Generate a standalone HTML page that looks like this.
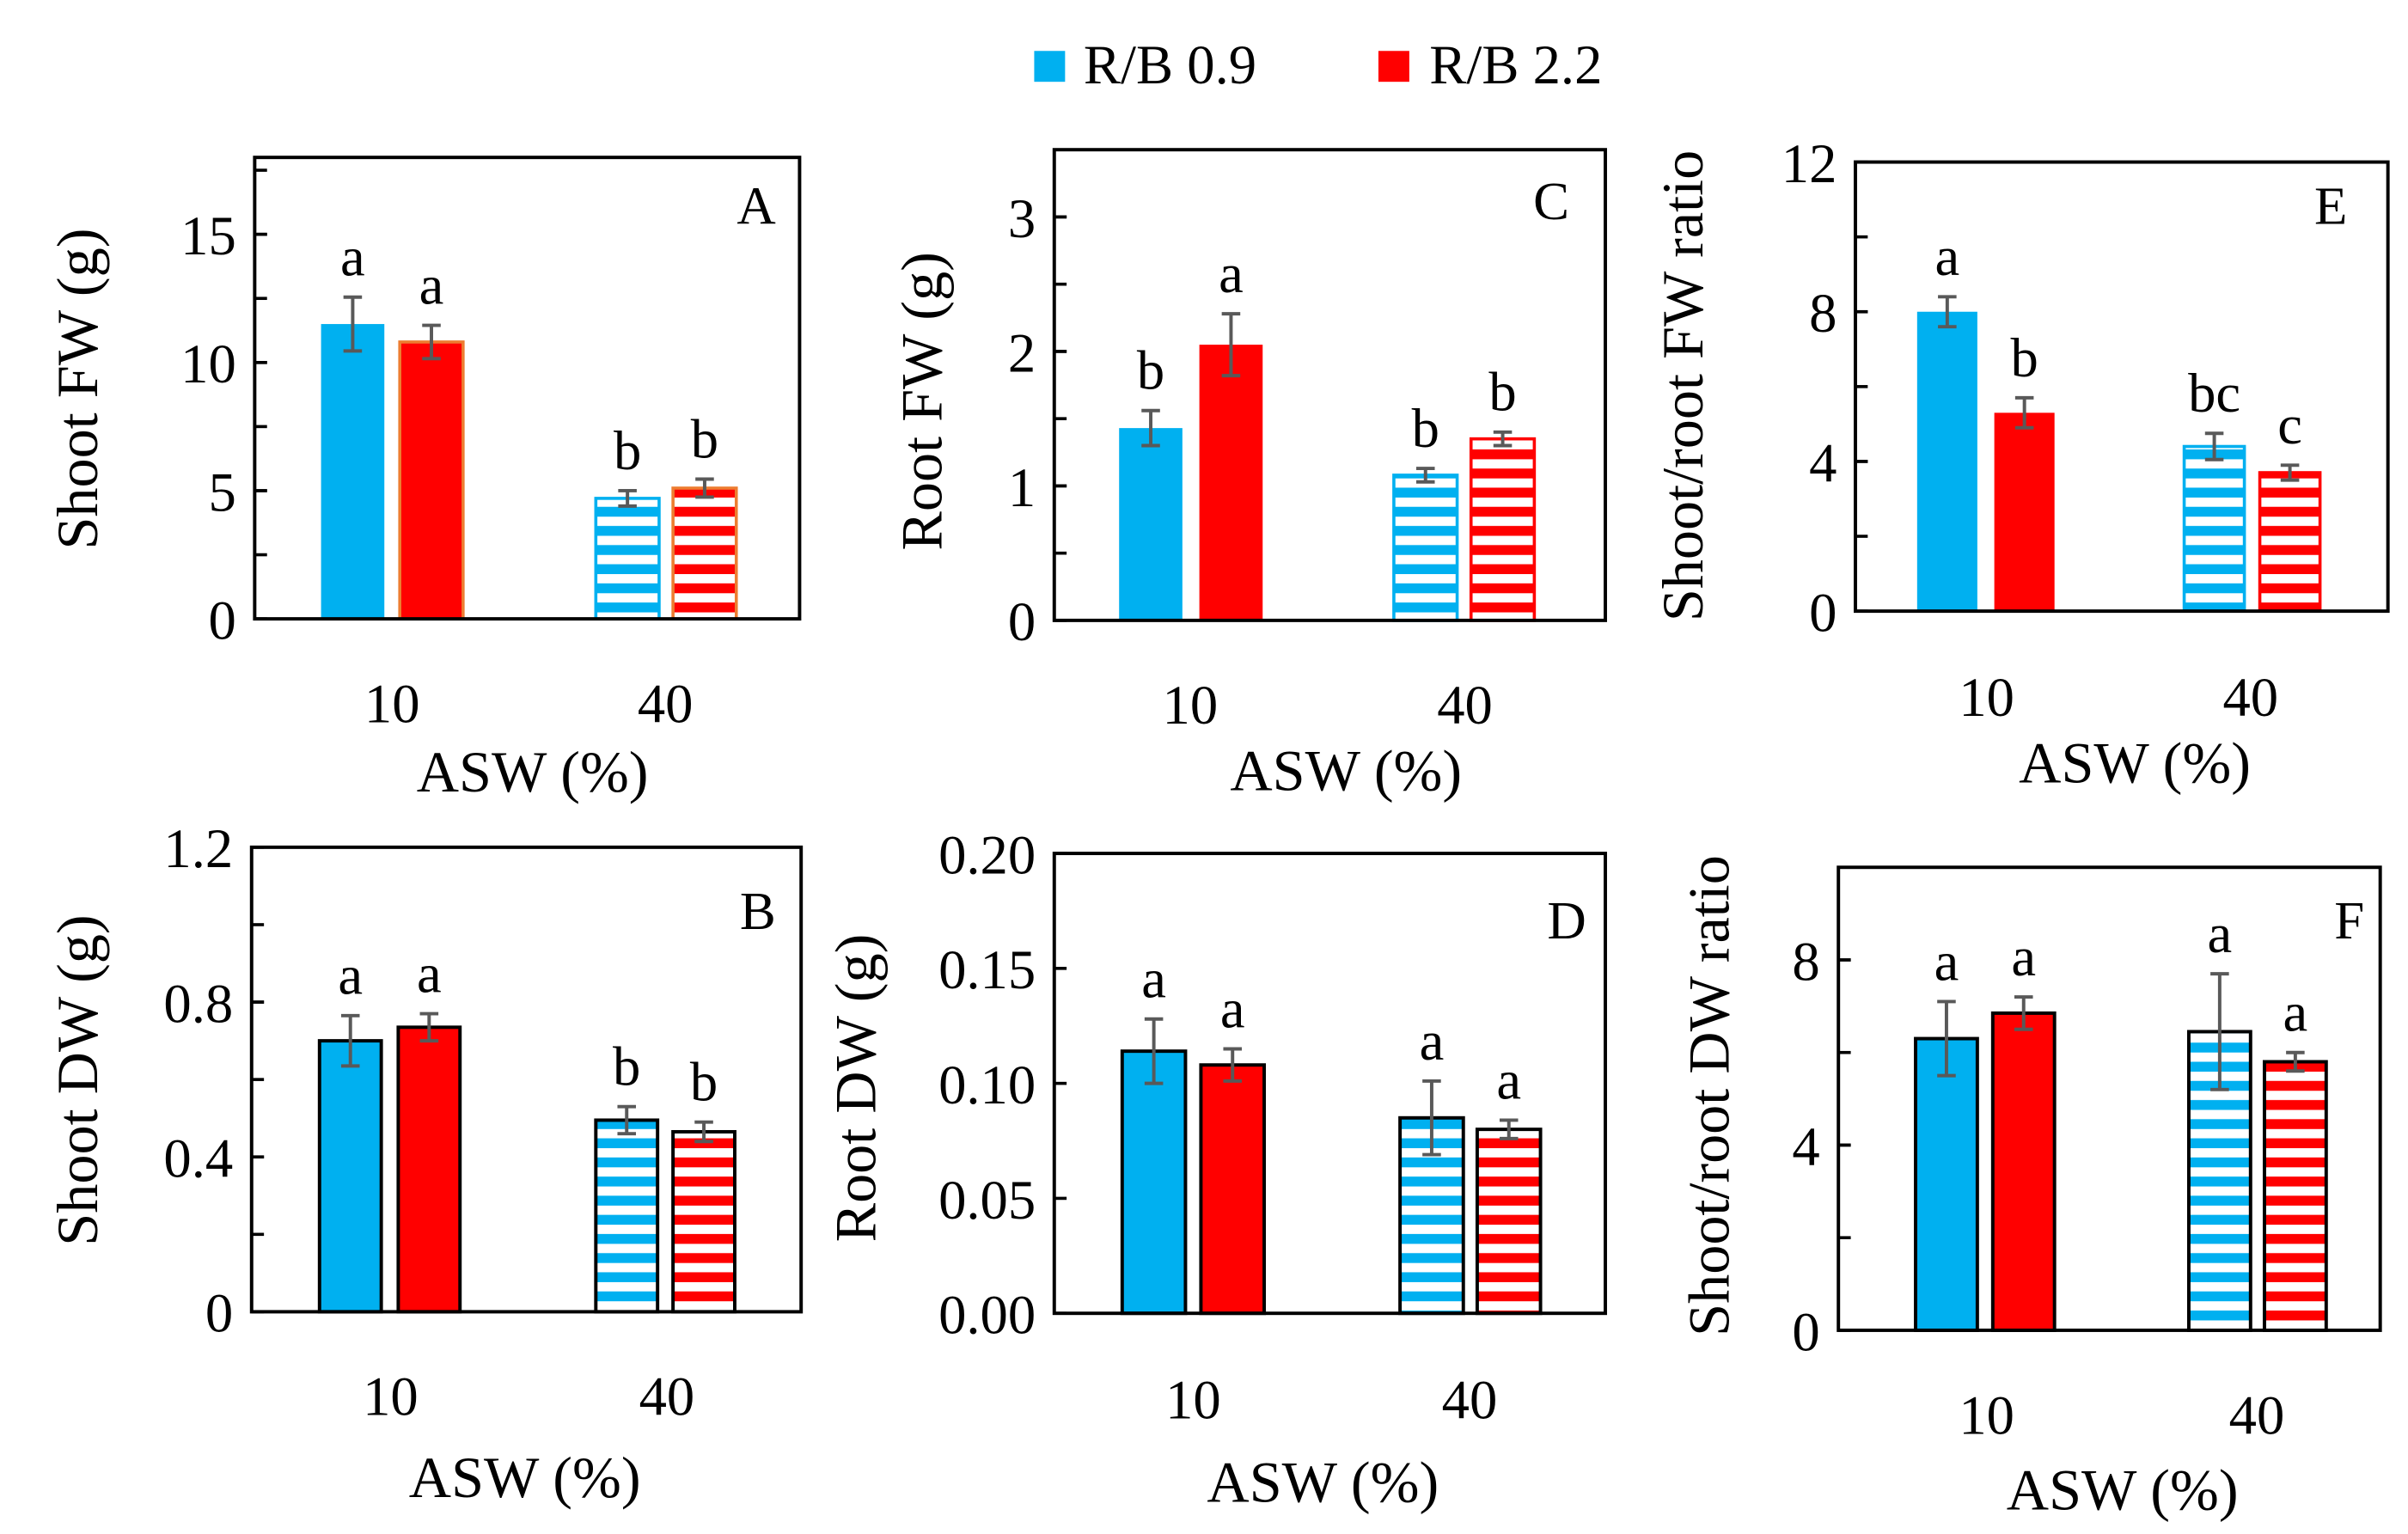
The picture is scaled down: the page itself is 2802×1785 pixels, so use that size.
<!DOCTYPE html>
<html><head><meta charset="utf-8"><style>
html,body{margin:0;padding:0;background:#fff;}
svg{display:block;}
text{font-family:"Liberation Serif",serif;fill:#000;}
</style></head><body>
<svg id="fig" width="2802" height="1785" viewBox="0 0 1560 994" preserveAspectRatio="none" xmlns="http://www.w3.org/2000/svg">
<defs>
<pattern id="stripeBlue" patternUnits="userSpaceOnUse" width="8" height="12.4"><rect width="8" height="12.4" fill="#fff"/><rect y="6" width="8" height="6.4" fill="#00B0F0"/></pattern>
<pattern id="stripeRed" patternUnits="userSpaceOnUse" width="8" height="12.4"><rect width="8" height="12.4" fill="#fff"/><rect y="6" width="8" height="6.4" fill="#FF0000"/></pattern>
</defs>
<g>
<rect x="670" y="33" width="20" height="20" fill="#00B0F0"/>
<text x="702" y="54" font-size="36">R/B 0.9</text>
<rect x="893" y="33" width="20" height="20" fill="#FF0000"/>
<text x="926" y="54" font-size="36">R/B 2.2</text>
</g>
</svg>
<script>
const panelIds = ["A","B","C","D","E","F"];
const categories = ["10","40"];
const valuesA = [11.5, 10.8, 4.7, 5.1];
const errorsA = [1.05, 0.65, 0.3, 0.35];
const lettersA = ["a","a","b","b"];
const ticksA = ["0","5","10","15"];
const valuesB = [0.70, 0.735, 0.495, 0.465];
const errorsB = [0.065, 0.035, 0.035, 0.025];
const lettersB = ["a","a","b","b"];
const ticksB = ["0","0.4","0.8","1.2"];
const valuesC = [1.43, 2.05, 1.08, 1.35];
const errorsC = [0.13, 0.23, 0.05, 0.05];
const lettersC = ["b","a","b","b"];
const ticksC = ["0","1","2","3"];
const valuesD = [0.114, 0.108, 0.085, 0.080];
const errorsD = [0.014, 0.007, 0.016, 0.004];
const lettersD = ["a","a","a","a"];
const ticksD = ["0.00","0.05","0.10","0.15","0.20"];
const valuesE = [8.0, 5.3, 4.4, 3.7];
const errorsE = [0.4, 0.4, 0.35, 0.2];
const lettersE = ["a","b","bc","c"];
const ticksE = ["0","4","8","12"];
const valuesF = [6.3, 6.85, 6.45, 5.8];
const errorsF = [0.8, 0.35, 1.25, 0.2];
const lettersF = ["a","a","a","a"];
const ticksF = ["0","4","8"];

const NS = "http://www.w3.org/2000/svg";
const svg = document.getElementById("fig");
function mk(tag, attrs, parent){const e=document.createElementNS(NS,tag);for(const k in attrs)e.setAttribute(k,attrs[k]);(parent||svg).appendChild(e);return e;}

const layouts = {
 A:{x0:165,x1:518,y0:102,y1:401,max:18,minor:2.5,vals:valuesA,errs:errorsA,lets:lettersA,ticks:ticksA,bx:[208,259,386,436],bw:41,ol:"self",title:"Shoot FW (g)",tx:50,ty:252,cx:[254,431],cy:468,ax:345,ay:513,lx:490,ly:145},
 B:{x0:163,x1:519,y0:549,y1:850,max:1.2,minor:0.2,vals:valuesB,errs:errorsB,lets:lettersB,ticks:ticksB,bx:[207,258,386,436],bw:40,ol:"black",title:"Shoot DW (g)",tx:50,ty:700,cx:[253,432],cy:917,ax:340,ay:970,lx:491,ly:602},
 C:{x0:683,x1:1040,y0:97,y1:402,max:3.5,minor:0.5,vals:valuesC,errs:errorsC,lets:lettersC,ticks:ticksC,bx:[725,777,903,953],bw:41,ol:"self",title:"Root FW (g)",tx:597,ty:260,cx:[771,949],cy:469,ax:872,ay:512,lx:1005,ly:142},
 D:{x0:683,x1:1040,y0:553,y1:851,max:0.2,minor:0,vals:valuesD,errs:errorsD,lets:lettersD,ticks:ticksD,bx:[727,778,907,957],bw:41,ol:"black",title:"Root DW (g)",tx:554,ty:705,cx:[773,952],cy:919,ax:857,ay:973,lx:1015,ly:608},
 E:{x0:1202,x1:1547,y0:105,y1:396,max:12,minor:2,vals:valuesE,errs:errorsE,lets:lettersE,ticks:ticksE,bx:[1242,1292,1415,1464],bw:39,ol:"self",title:"Shoot/root FW ratio",tx:1090,ty:250,cx:[1287,1458],cy:464,ax:1383,ay:507,lx:1510,ly:145},
 F:{x0:1191,x1:1542,y0:562,y1:862,max:10,minor:2,vals:valuesF,errs:errorsF,lets:lettersF,ticks:ticksF,bx:[1241,1291,1418,1467],bw:40,ol:"black",title:"Shoot/root DW ratio",tx:1107,ty:710,cx:[1287,1462],cy:929,ax:1375,ay:978,lx:1522,ly:608}
};

panelIds.forEach(id=>{
 const L = layouts[id];
 const g = mk("g",{});
 
 
 const yS = v => L.y1 - (v/L.max)*(L.y1-L.y0);
 L.vals.forEach((v,i)=>{
  const blue = i%2===0, striped = i>=2;
  const col = blue ? "#00B0F0" : "#FF0000";
  let stroke;
  if (L.ol==="black") stroke="#000";
  else if (id==="A" && !blue) stroke="#ED7D31";
  else stroke=col;
  const y = yS(v);
  const r = mk("rect",{x:L.bx[i],y:y,width:L.bw,height:L.y1-y,fill:striped?(blue?"url(#stripeBlue)":"url(#stripeRed)"):col,stroke:stroke,"stroke-width":L.ol==="black"?2.2:(striped||stroke!==col?2:0)},g);
  
  
  const cx = L.bx[i]+L.bw/2, yt=yS(v+L.errs[i]), yb=yS(v-L.errs[i]);
  const eb = mk("path",{d:`M${cx},${yt}V${yb}M${cx-6},${yt}H${cx+6}M${cx-6},${yb}H${cx+6}`,stroke:"#595959","stroke-width":2.2,fill:"none"},g);
  
  
  const lt = mk("text",{x:cx,y:yt-14,"font-size":36,"text-anchor":"middle"},g);
  lt.textContent = L.lets[i];
  
  
 });
 const fr = mk("rect",{x:L.x0,y:L.y0,width:L.x1-L.x0,height:L.y1-L.y0,fill:"none",stroke:"#000","stroke-width":2.2},g);
 
 
 L.ticks.forEach(t=>{
  const y=yS(parseFloat(t));
  mk("line",{x1:L.x0,x2:L.x0+8,y1:y,y2:y,stroke:"#000","stroke-width":2},g);
  const tl = mk("text",{x:L.x0-12,y:y+13,"font-size":36,"text-anchor":"end"},g);
  tl.textContent=t;
  
  
 });
 if (L.minor>0){
  for(let v=L.minor; v<L.max; v+=L.minor){
   const y=yS(v);
   mk("line",{x1:L.x0,x2:L.x0+8,y1:y,y2:y,stroke:"#000","stroke-width":2},g);
  }
 }
 categories.forEach((c,k)=>{
  const xl = mk("text",{x:L.cx[k],y:L.cy,"font-size":36,"text-anchor":"middle"},g);
  xl.textContent=c;
  
  
 });
 const at = mk("text",{x:L.ax,y:L.ay,"font-size":38,"text-anchor":"middle"},g);
 at.textContent="ASW (%)";
 
 
 const yt = mk("text",{x:L.tx,y:L.ty,"font-size":38,"text-anchor":"middle",transform:`rotate(-90 ${L.tx} ${L.ty})`,dy:13},g);
 yt.textContent=L.title;
 
 
 const pl = mk("text",{x:L.lx,y:L.ly,"font-size":35,"text-anchor":"middle"},g);
 pl.textContent=id;
 
 
});
</script>
</body></html>
